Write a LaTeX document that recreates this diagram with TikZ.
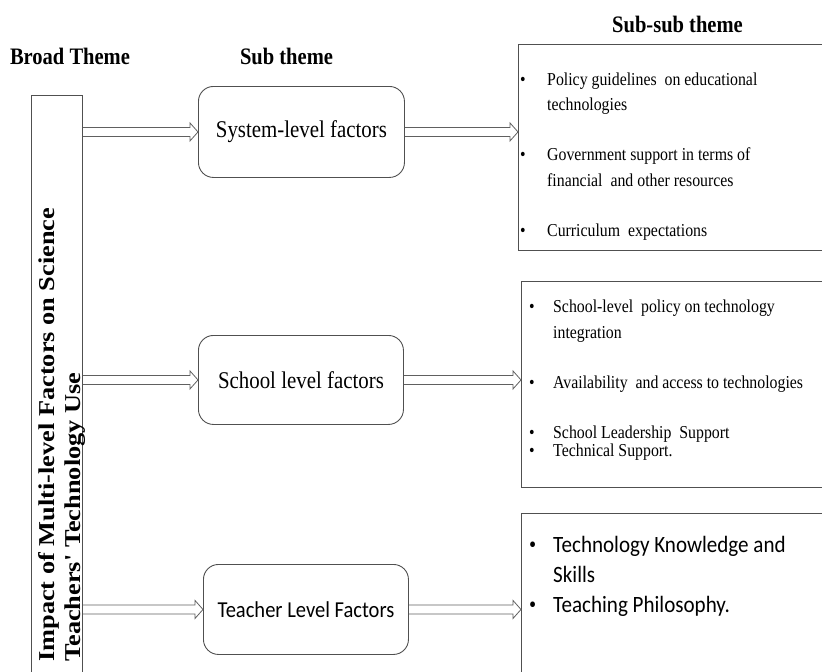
\documentclass[tikz,border=0pt]{standalone}
\usepackage{fontspec}
\setmainfont{Liberation Serif}[FakeStretch=0.87]
\newfontfamily\widefont{Liberation Serif}[FakeStretch=1.16]
\newfontfamily\calfont{Carlito}[FakeStretch=0.9]
\usepackage{tikz}
\usetikzlibrary{calc,positioning}
\definecolor{linegray}{HTML}{505050}
\definecolor{arrowgray}{HTML}{606060}
\tikzset{theme/.style={font=\bfseries\fontsize{23.6}{28}\selectfont, inner sep=0pt, anchor=base}}
\tikzset{subbox/.style={draw=linegray, line width=0.9pt, rounded corners=15pt, anchor=north west, inner sep=0pt, font=\fontsize{24}{28}\selectfont}}
\tikzset{listbox/.style={draw=linegray, line width=0.9pt, anchor=north west, inner sep=0pt}}
\tikzset{items/.style={align=left, anchor=base west, inner sep=0pt, font=\fontsize{18.2}{25.5}\selectfont}}
\tikzset{hollow/.style={draw=arrowgray, line width=0.8pt,
  to path={let \p1=(\tikztostart), \p2=(\tikztotarget) in
    (\x1,\y1+4.5pt) -- (\x2-8pt,\y1+4.5pt) -- (\x2-8pt,\y1+9pt) -- (\x2,\y1)
    -- (\x2-8pt,\y1-9pt) -- (\x2-8pt,\y1-4.5pt) -- (\x1,\y1-4.5pt)}}}
\newcommand\bul[1]{\makebox[#1][l]{\rmfamily\textbullet}}
\newcommand\ind[1]{\hspace*{#1}}

\begin{document}
\begin{tikzpicture}[x=1pt, y=-1pt]
\useasboundingbox (0,0) rectangle (822,672);
% headings
\node[theme](hbroad) at (70,64) {Broad Theme};
\node[theme](hsub) at (286.5,64) {Sub theme};
\node[theme](hsubsub) at (677.5,32) {Sub-sub theme};
% broad theme
\node[listbox, minimum width=51pt, minimum height=600pt](broad) at (31,95) {};
\node[rotate=90, anchor=south west, inner sep=0pt, align=left,
  font=\widefont\bfseries\fontsize{22.7}{26}\selectfont](impact) at (86,662)
  {Impact of Multi-level Factors on Science\\Teachers' Technology Use};
% sub themes
\node[subbox, minimum width=206pt, minimum height=91pt](sys) at (198,86) {System-level factors};
\node[subbox, minimum width=205pt, minimum height=89pt](school) at (198,335) {School level factors};
\node[subbox, minimum width=205pt, minimum height=90pt, font=\calfont\fontsize{22.8}{27}\selectfont](teacher) at (203,564) {Teacher Level Factors};
% sub-sub themes
\node[listbox, minimum width=312pt, minimum height=206pt](subsub1) at (518,44) {};
\node[listbox, minimum width=309pt, minimum height=206pt](subsub2) at (521,281) {};
\node[listbox, minimum width=309pt, minimum height=180pt](subsub3) at (521,513) {};
\node[items](list1) at (520,236) {\bul{27pt}Policy guidelines\ \ on educational\\
  \ind{27pt}technologies\\[24.5pt]
  \bul{27pt}Government support in terms of\\
  \ind{27pt}financial\ \ and other resources\\[24.5pt]
  \bul{27pt}Curriculum\ \ expectations};
\node[items](list2) at (529,456) {\bul{24pt}School-level\ \ policy on technology\\
  \ind{24pt}integration\\[24.5pt]
  \bul{24pt}Availability\ \ and access to technologies\\[24.5pt]
  \bul{24pt}School Leadership\ \ Support\\[-7.5pt]
  \bul{24pt}Technical Support.};
\node[items, font=\calfont\fontsize{23.4}{30}\selectfont](list3) at (529,612) {\bul{24pt}Technology Knowledge and\\
  \ind{24pt}Skills\\
  \bul{24pt}Teaching Philosophy.};
% connectors
\draw[hollow] (broad.east |- sys.west) to (sys.west);
\draw[hollow] (broad.east |- school.west) to (school.west);
\draw[hollow] (broad.east |- teacher.west) to (teacher.west);
\draw[hollow] (sys.east) to (subsub1.west |- sys.east);
\draw[hollow] (school.east) to (subsub2.west |- school.east);
\draw[hollow] (teacher.east) to (subsub3.west |- teacher.east);
\end{tikzpicture}
\end{document}
